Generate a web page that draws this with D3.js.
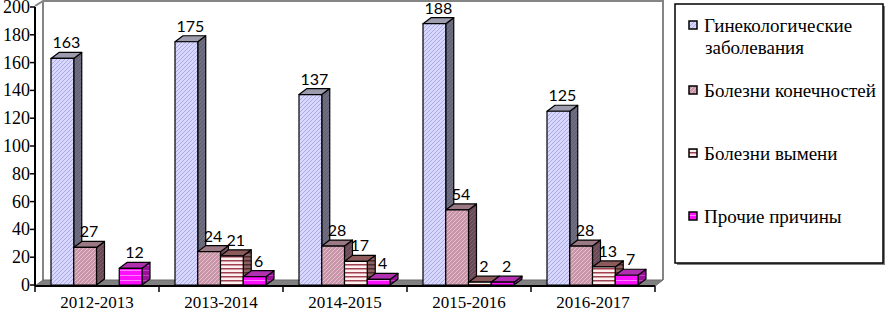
<!DOCTYPE html>
<html>
<head>
<meta charset="utf-8">
<script src="https://cdn.jsdelivr.net/npm/d3@7/dist/d3.min.js"></script>
<style>
  body { margin: 0; background: #fff; }
  svg { display: block; }
</style>
</head>
<body>
<div id="chart"></div>
<script>
// Data
const categories = ["2012-2013", "2013-2014", "2014-2015", "2015-2016", "2016-2017"];
const seriesNames = ["Гинекологические заболевания", "Болезни конечностей", "Болезни вымени", "Прочие причины"];
const gynecology = [163, 175, 137, 188, 125];
const limbs = [27, 24, 28, 54, 28];
const udder = [null, 21, 17, 2, 13];
const other = [12, 6, 4, 2, 7];
const yTicks = [0, 20, 40, 60, 80, 100, 120, 140, 160, 180, 200];

const allSeries = [gynecology, limbs, udder, other];

const serif = '"Liberation Serif", "Times New Roman", Times, serif';
const sans = 'Lato, "Open Sans", sans-serif';

// SVG
const width = 887, height = 311;
const svg = d3.select("#chart").append("svg")
  .attr("width", width)
  .attr("height", height);

// 3D depth offset
const dx = 8, dy = 6;

// Plot frame
const plotLeft = 35, plotRight = 655, plotBottom = 286, plotTop = 7;

const x0 = d3.scaleBand().domain(categories).range([plotLeft, plotRight]);
const x1 = d3.scaleBand().domain(d3.range(4)).range([16, 107]);
const y = d3.scaleLinear().domain([0, 200]).range([plotBottom - 1, plotTop]);

// Patterns
const defs = svg.append("defs");

function diagPattern(id, bg, line, w) {
  const p = defs.append("pattern").attr("id", id)
    .attr("patternUnits", "userSpaceOnUse")
    .attr("width", 4).attr("height", 4);
  p.append("rect").attr("width", 4).attr("height", 4).attr("fill", bg);
  p.append("path").attr("d", "M-1,1 l2,-2 M0,4 l4,-4 M3,5 l2,-2")
    .attr("stroke", line).attr("stroke-width", w);
}
function stripePattern(id, bg, line, h, lw) {
  const p = defs.append("pattern").attr("id", id)
    .attr("patternUnits", "userSpaceOnUse")
    .attr("width", 4).attr("height", h);
  p.append("rect").attr("width", 4).attr("height", h).attr("fill", bg);
  p.append("rect").attr("y", 0).attr("width", 4).attr("height", lw).attr("fill", line);
}

diagPattern("p0f", "#d8d8ff", "#a0a0da", 0.8);
diagPattern("p0s", "#6e6e80", "#5a5a6e", 0.8);
diagPattern("p1f", "#c896a8", "#ecc8d6", 0.8);
diagPattern("p1s", "#6a4a56", "#866672", 0.8);
stripePattern("p2f", "#fff0f0", "#a04050", 4, 1.5);
stripePattern("p2s", "#8a6060", "#4a2a2a", 4, 1.5);
stripePattern("p3f", "#ff10ff", "#ff80ff", 5, 1);
stripePattern("p3s", "#9a109a", "#c040c0", 5, 1);

const styles = [
  {front: "url(#p0f)", side: "url(#p0s)", top: "#9c9cae"},
  {front: "url(#p1f)", side: "url(#p1s)", top: "#9a7884"},
  {front: "url(#p2f)", side: "url(#p2s)", top: "#8c5a5a"},
  {front: "url(#p3f)", side: "url(#p3s)", top: "#b030b0"}
];

// Back wall and floor
const wall = "#858585";
svg.append("path")
  .attr("d", `M${plotLeft},${plotTop - 1} L${plotLeft + dx},${plotTop - dy} H${plotRight + dx} V${plotBottom - dy}`)
  .attr("fill", "none").attr("stroke", wall).attr("stroke-width", 2);
svg.append("line")
  .attr("x1", plotLeft + dx).attr("x2", plotLeft + dx)
  .attr("y1", plotTop - dy).attr("y2", plotBottom - dy)
  .attr("stroke", wall).attr("stroke-width", 2);
svg.append("path")
  .attr("d", `M${plotLeft},${plotBottom} L${plotLeft + dx},${plotBottom - dy} H${plotRight + dx} L${plotRight},${plotBottom} Z`)
  .attr("fill", "#808080").attr("stroke", "#6a6a6a").attr("stroke-width", 1);

// Bars
const bw = x1.bandwidth();
const barsG = svg.append("g");
const labelsG = svg.append("g");

categories.forEach((cat, ci) => {
  allSeries.forEach((ser, si) => {
    const v = ser[ci];
    if (v == null) return;
    const bx = x0(cat) + x1(si);
    const by = y(v);
    const b0 = y(0);
    const st = styles[si];
    const g = barsG.append("g")
      .attr("stroke", "#000").attr("stroke-width", 1.2).attr("stroke-linejoin", "round");
    // side face
    g.append("path")
      .attr("d", `M${bx + bw},${b0} L${bx + bw + dx},${b0 - dy} V${by - dy} L${bx + bw},${by} Z`)
      .attr("fill", st.side);
    // top face
    g.append("path")
      .attr("d", `M${bx},${by} L${bx + dx},${by - dy} H${bx + bw + dx} L${bx + bw},${by} Z`)
      .attr("fill", st.top);
    // front face
    g.append("rect")
      .attr("x", bx).attr("y", by)
      .attr("width", bw).attr("height", b0 - by)
      .attr("fill", st.front);

    labelsG.append("text")
      .attr("x", bx + bw / 2 + dx / 2)
      .attr("y", by - dy - 4)
      .attr("text-anchor", "middle")
      .style("font-family", sans)
      .style("font-size", "16px")
      .attr("fill", "#000")
      .text(v);
  });
});

// Y axis
svg.append("line")
  .attr("x1", plotLeft).attr("x2", plotLeft)
  .attr("y1", y(200)).attr("y2", plotBottom)
  .attr("stroke", "#000").attr("stroke-width", 2);
const yAx = svg.append("g");
yTicks.forEach(t => {
  yAx.append("line")
    .attr("x1", plotLeft - 5).attr("x2", plotLeft)
    .attr("y1", y(t)).attr("y2", y(t))
    .attr("stroke", "#000").attr("stroke-width", 1.5);
  yAx.append("text")
    .attr("x", 30).attr("y", y(t) + 6)
    .attr("text-anchor", "end")
    .style("font-family", serif)
    .style("font-size", "18px")
    .text(t);
});

// X axis
svg.append("line")
  .attr("x1", plotLeft).attr("x2", plotRight)
  .attr("y1", plotBottom).attr("y2", plotBottom)
  .attr("stroke", "#000").attr("stroke-width", 2);
const bounds = categories.map(c => x0(c)).concat([plotRight]);
bounds.forEach(b => {
  svg.append("line")
    .attr("x1", b).attr("x2", b)
    .attr("y1", plotBottom).attr("y2", plotBottom + 6)
    .attr("stroke", "#000").attr("stroke-width", 1.5);
});
categories.forEach(c => {
  svg.append("text")
    .attr("x", x0(c) + x0.bandwidth() / 2)
    .attr("y", 308)
    .attr("text-anchor", "middle")
    .style("font-family", serif)
    .style("font-size", "17px")
    .text(c);
});

// Legend
const lg = svg.append("g");
lg.append("rect")
  .attr("x", 677).attr("y", 6).attr("width", 208).attr("height", 259)
  .attr("fill", "#808080");
lg.append("rect")
  .attr("x", 675).attr("y", 4).attr("width", 208).attr("height", 259)
  .attr("fill", "#fff").attr("stroke", "#000").attr("stroke-width", 1.5);

const legendItems = [
  {lines: ["Гинекологические", "заболевания"], y: 32},
  {lines: ["Болезни конечностей"], y: 97},
  {lines: ["Болезни вымени"], y: 160},
  {lines: ["Прочие причины"], y: 223}
];
legendItems.forEach((it, i) => {
  lg.append("rect")
    .attr("x", 689).attr("y", it.y - 11)
    .attr("width", 8).attr("height", 8)
    .attr("fill", styles[i].front)
    .attr("stroke", "#000").attr("stroke-width", 1.5);
  const t = lg.append("text")
    .attr("x", 704).attr("y", it.y)
    .style("font-family", serif)
    .style("font-size", "19px");
  it.lines.forEach((ln, k) => {
    t.append("tspan").attr("x", k ? 705 : 704).attr("dy", k ? 22 : 0).text(ln);
  });
});
</script>
</body>
</html>
